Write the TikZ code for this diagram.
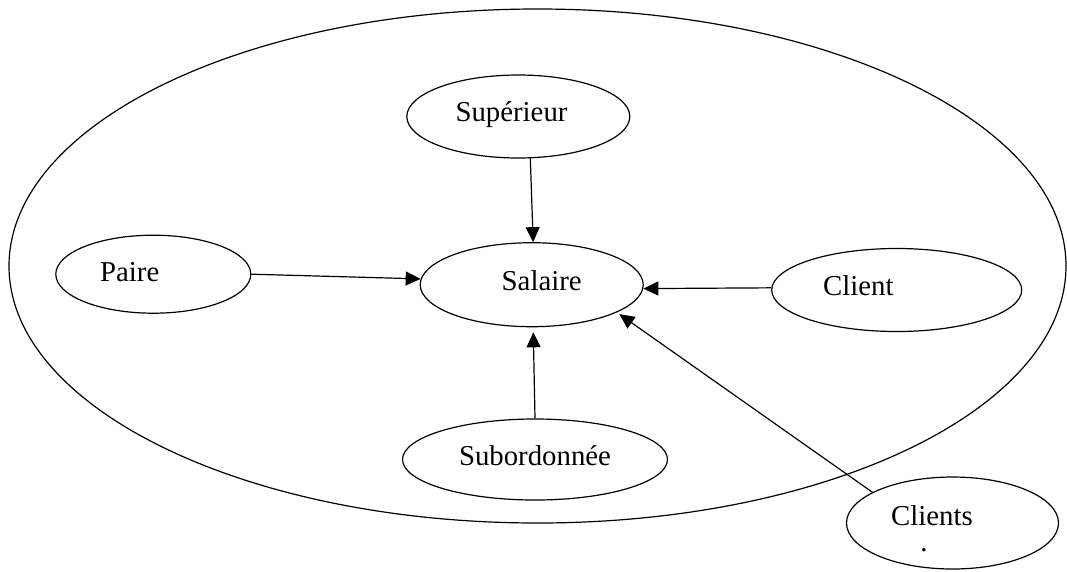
\documentclass[tikz,border=0pt]{standalone}
\usepackage{fontspec}
\setmainfont{Liberation Serif}
\usetikzlibrary{shapes.geometric,arrows.meta}
\tikzset{
  oval/.style={draw=black, ellipse, line width=1.2pt, inner sep=0pt},
  lbl/.style={anchor=base, inner sep=0pt, font=\fontsize{28.8}{34}\selectfont},
  link/.style={line width=1.2pt, -{Triangle[length=15pt,width=14pt]}}
}
\begin{document}
\begin{tikzpicture}[x=1pt,y=-1pt]
\useasboundingbox (0,0) rectangle (1067,571);
% surrounding boundary
\node[oval, minimum width=1057pt, minimum height=514pt] (env) at (537.5,266) {};
% entities
\node[oval, minimum width=223pt, minimum height=83pt] (sup) at (518.3,116.5) {};
\node[oval, minimum width=223pt, minimum height=84pt] (sal) at (531.7,284.7) {};
\node[oval, minimum width=195pt, minimum height=78pt] (pai) at (153.3,274.2) {};
\node[oval, minimum width=250pt, minimum height=83pt] (cli) at (896.7,290) {};
\node[oval, minimum width=265pt, minimum height=81pt] (sub) at (535,459.5) {};
\node[oval, minimum width=212pt, minimum height=92pt] (cls) at (952.5,523) {};
% labels
\node[lbl] (tsup) at (511.5,121) {Supérieur};
\node[lbl] (tsal) at (541.7,290) {Salaire};
\node[lbl] (tpai) at (129.7,281.7) {Paire};
\node[lbl] (tcli) at (858.3,295) {Client};
\node[lbl] (tsub) at (535,465) {Subordonnée};
\node[lbl] (tcls) at (932,525) {Clients};
\node[lbl] (tdot) at (924,551) {.};
% influences on salary
\draw[link] (sup.-74) -- (sal.88);
\draw[link] (pai.0) -- (sal.177);
\draw[link] (cli.179) -- (sal.-2);
\draw[link, shorten >=5pt] (sub.90) -- (sal.-88);
\draw[link, shorten >=3pt] (cls.159.8) -- (sal.-18.7);
\end{tikzpicture}
\end{document}
